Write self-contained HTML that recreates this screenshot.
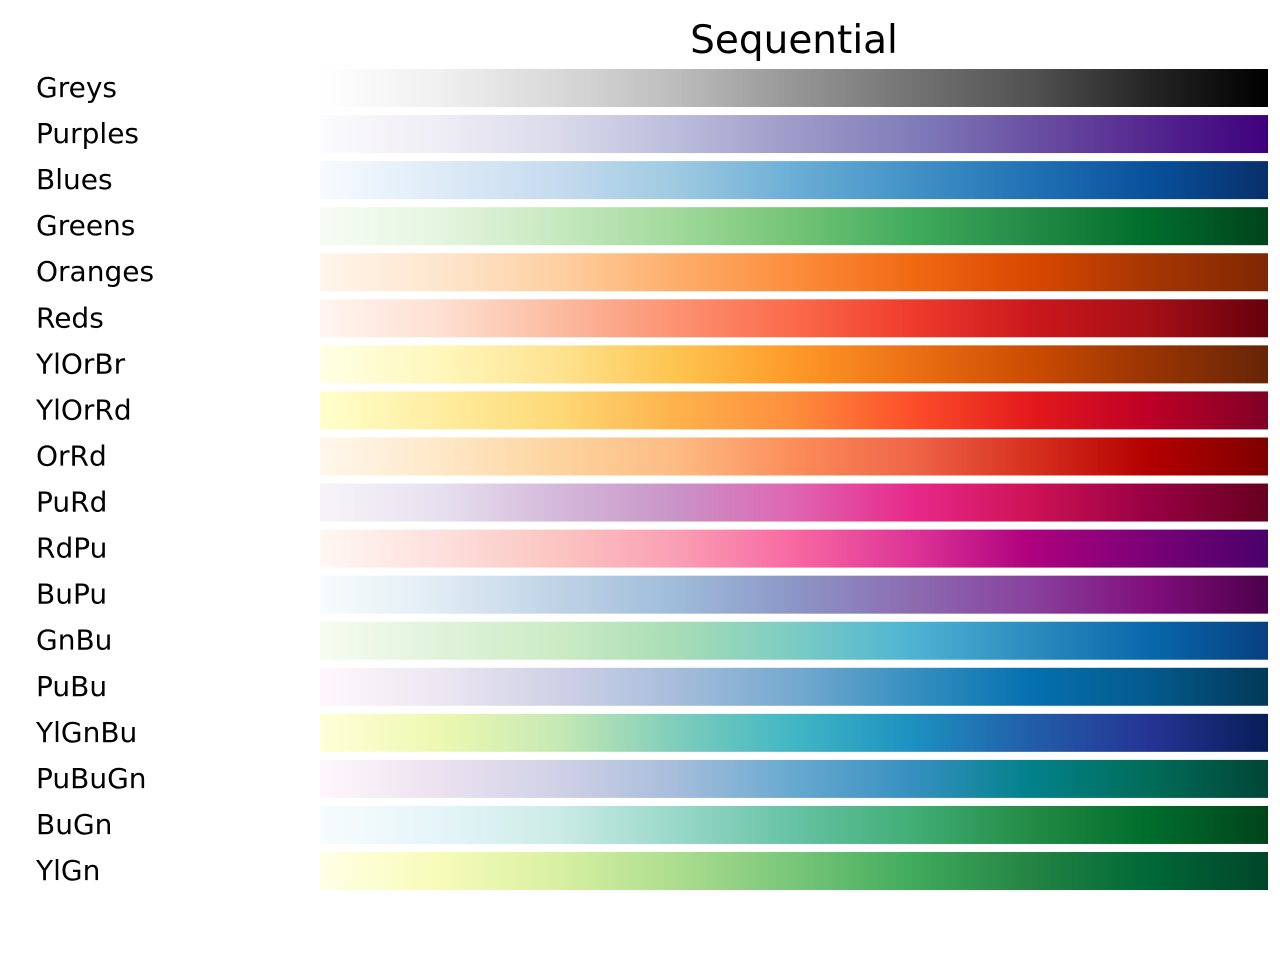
<!DOCTYPE html>
<html><head><meta charset="utf-8"><title>Sequential colormaps</title>
<style>
html,body{margin:0;padding:0;background:#fff;}
svg{display:block;font-family:"DejaVu Sans","Liberation Sans",sans-serif;}
</style></head>
<body>
<svg id="chart" width="1280" height="966" viewBox="0 0 1280 966" xmlns="http://www.w3.org/2000/svg">
<defs id="defs"></defs>
<text x="794" y="53" text-anchor="middle" font-size="39" fill="#000">Sequential</text>
<g id="rows"></g>
</svg>
<script>
const cmapNames = ["Greys","Purples","Blues","Greens","Oranges","Reds","YlOrBr","YlOrRd","OrRd","PuRd","RdPu","BuPu","GnBu","PuBu","YlGnBu","PuBuGn","BuGn","YlGn"];
const Greys=["#ffffff","#f0f0f0","#d9d9d9","#bdbdbd","#969696","#737373","#525252","#252525","#000000"];
const Purples=["#fcfbfd","#efedf5","#dadaeb","#bcbddc","#9e9ac8","#807dba","#6a51a3","#54278f","#3f007d"];
const Blues=["#f7fbff","#deebf7","#c6dbef","#9ecae1","#6baed6","#4292c6","#2171b5","#08519c","#08306b"];
const Greens=["#f7fcf5","#e5f5e0","#c7e9c0","#a1d99b","#74c476","#41ab5d","#238b45","#006d2c","#00441b"];
const Oranges=["#fff5eb","#fee6ce","#fdd0a2","#fdae6b","#fd8d3c","#f16913","#d94801","#a63603","#7f2704"];
const Reds=["#fff5f0","#fee0d2","#fcbba1","#fc9272","#fb6a4a","#ef3b2c","#cb181d","#a50f15","#67000d"];
const YlOrBr=["#ffffe5","#fff7bc","#fee391","#fec44f","#fe9929","#ec7014","#cc4c02","#993404","#662506"];
const YlOrRd=["#ffffcc","#ffeda0","#fed976","#feb24c","#fd8d3c","#fc4e2a","#e31a1c","#bd0026","#800026"];
const OrRd=["#fff7ec","#fee8c8","#fdd49e","#fdbb84","#fc8d59","#ef6548","#d7301f","#b30000","#7f0000"];
const PuRd=["#f7f4f9","#e7e1ef","#d4b9da","#c994c7","#df65b0","#e7298a","#ce1256","#980043","#67001f"];
const RdPu=["#fff7f3","#fde0dd","#fcc5c0","#fa9fb5","#f768a1","#dd3497","#ae017e","#7a0177","#49006a"];
const BuPu=["#f7fcfd","#e0ecf4","#bfd3e6","#9ebcda","#8c96c6","#8c6bb1","#88419d","#810f7c","#4d004b"];
const GnBu=["#f7fcf0","#e0f3db","#ccebc5","#a8ddb5","#7bccc4","#4eb3d3","#2b8cbe","#0868ac","#084081"];
const PuBu=["#fff7fb","#ece7f2","#d0d1e6","#a6bddb","#74a9cf","#3690c0","#0570b0","#045a8d","#023858"];
const YlGnBu=["#ffffd9","#edf8b1","#c7e9b4","#7fcdbb","#41b6c4","#1d91c0","#225ea8","#253494","#081d58"];
const PuBuGn=["#fff7fb","#ece2f0","#d0d1e6","#a6bddb","#67a9cf","#3690c0","#02818a","#016c59","#014636"];
const BuGn=["#f7fcfd","#e5f5f9","#ccece6","#99d8c9","#66c2a4","#41ae76","#238b45","#006d2c","#00441b"];
const YlGn=["#ffffe5","#f7fcb9","#d9f0a3","#addd8e","#78c679","#41ab5d","#238443","#006837","#004529"];
const cmapColors=[Greys,Purples,Blues,Greens,Oranges,Reds,YlOrBr,YlOrRd,OrRd,PuRd,RdPu,BuPu,GnBu,PuBu,YlGnBu,PuBuGn,BuGn,YlGn];

const NS="http://www.w3.org/2000/svg";
const defs=document.getElementById('defs'), rows=document.getElementById('rows');
const x0=320,x1=1268,top0=69,step=46.06,barH=38;
cmapNames.forEach((name,i)=>{
  const cols=cmapColors[i];
  const g=document.createElementNS(NS,'linearGradient');
  g.setAttribute('id','grad'+i);
  cols.forEach((c,k)=>{
    const s=document.createElementNS(NS,'stop');
    s.setAttribute('offset',(k/(cols.length-1)*100)+'%');
    s.setAttribute('stop-color',c);
    g.appendChild(s);
  });
  defs.appendChild(g);
  const y=top0+i*step;
  const r=document.createElementNS(NS,'rect');
  
  
  r.setAttribute('x',x0);r.setAttribute('y',y);
  r.setAttribute('width',x1-x0);r.setAttribute('height',barH);
  r.setAttribute('fill','url(#grad'+i+')');
  rows.appendChild(r);
  const t=document.createElementNS(NS,'text');
  
  
  t.setAttribute('x',36);t.setAttribute('y',y+barH/2+9);
  t.setAttribute('font-size','28');
  t.textContent=name;
  rows.appendChild(t);
});
</script>
</body></html>
